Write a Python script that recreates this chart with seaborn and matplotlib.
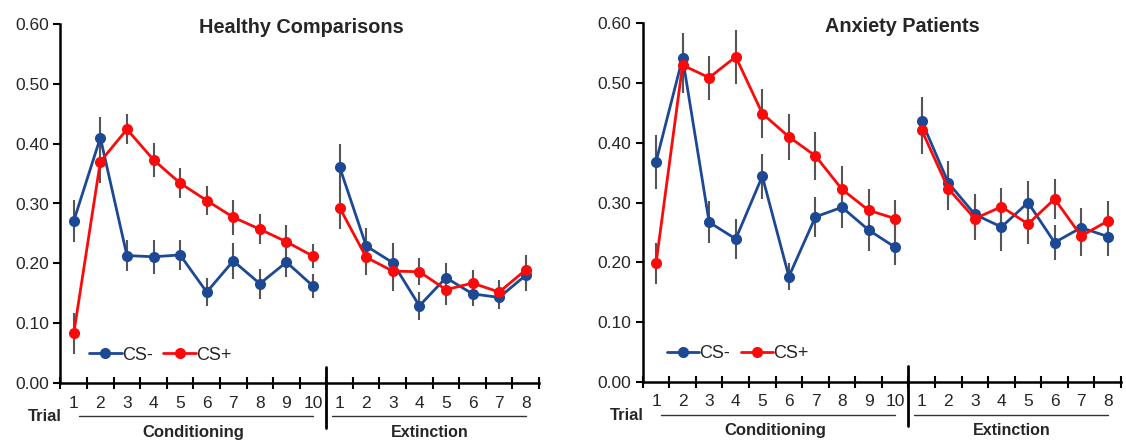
import matplotlib
matplotlib.use("Agg")
import matplotlib.pyplot as plt
import numpy as np
import pandas as pd
import seaborn as sns

# trial labels
cond_trials = list(range(1, 11))
ext_trials = list(range(1, 9))

# Healthy comparisons
hc_csm_cond = [0.271, 0.410, 0.213, 0.211, 0.214, 0.152, 0.204, 0.166, 0.202, 0.162]
hc_csm_cond_se = [0.035, 0.034, 0.026, 0.028, 0.025, 0.023, 0.030, 0.025, 0.024, 0.020]
hc_csp_cond = [0.083, 0.370, 0.424, 0.373, 0.334, 0.305, 0.277, 0.257, 0.236, 0.212]
hc_csp_cond_se = [0.034, 0.036, 0.025, 0.028, 0.025, 0.024, 0.029, 0.025, 0.028, 0.020]
hc_csm_ext = [0.361, 0.229, 0.201, 0.129, 0.176, 0.149, 0.143, 0.180]
hc_csm_ext_se = [0.038, 0.030, 0.033, 0.023, 0.025, 0.021, 0.020, 0.027]
hc_csp_ext = [0.293, 0.210, 0.187, 0.186, 0.156, 0.167, 0.152, 0.189]
hc_csp_ext_se = [0.035, 0.030, 0.033, 0.023, 0.026, 0.022, 0.020, 0.025]

# Anxiety patients
ap_csm_cond = [0.368, 0.542, 0.267, 0.239, 0.344, 0.176, 0.276, 0.292, 0.254, 0.225]
ap_csm_cond_se = [0.045, 0.041, 0.035, 0.033, 0.038, 0.023, 0.033, 0.035, 0.035, 0.030]
ap_csp_cond = [0.198, 0.530, 0.509, 0.544, 0.449, 0.410, 0.378, 0.322, 0.287, 0.273]
ap_csp_cond_se = [0.034, 0.046, 0.037, 0.045, 0.041, 0.039, 0.040, 0.039, 0.035, 0.031]
ap_csm_ext = [0.436, 0.333, 0.280, 0.259, 0.300, 0.233, 0.258, 0.243]
ap_csm_ext_se = [0.041, 0.037, 0.034, 0.040, 0.036, 0.029, 0.033, 0.033]
ap_csp_ext = [0.421, 0.323, 0.273, 0.293, 0.264, 0.306, 0.244, 0.269]
ap_csp_ext_se = [0.040, 0.036, 0.035, 0.031, 0.034, 0.034, 0.034, 0.033]

BLUE = "#1c4894"
RED = "#fa0a0a"
BAR = "#555555"


def build_df(csm_c, csm_c_se, csp_c, csp_c_se, csm_e, csm_e_se, csp_e, csp_e_se):
    rows = []
    n_c = len(cond_trials)
    for cs, vc, sc, ve, se in [
        ("CS-", csm_c, csm_c_se, csm_e, csm_e_se),
        ("CS+", csp_c, csp_c_se, csp_e, csp_e_se),
    ]:
        for i, t in enumerate(cond_trials):
            rows.append(dict(pos=i, trial=t, value=vc[i], se=sc[i], cs=cs, phase="cond"))
        for i, t in enumerate(ext_trials):
            rows.append(dict(pos=n_c + i, trial=t, value=ve[i], se=se[i], cs=cs, phase="ext"))
    return pd.DataFrame(rows)


def draw_panel(ax, df, title, title_x, leg_x):
    n_c = len(cond_trials)
    n_all = n_c + len(ext_trials)
    for cs in ["CS-", "CS+"]:
        sub = df[df["cs"] == cs]
        ax.errorbar(sub["pos"], sub["value"], yerr=sub["se"], fmt="none",
                    ecolor=BAR, elinewidth=1.5, capsize=0, zorder=1)
    sns.lineplot(data=df, x="pos", y="value", hue="cs", units="phase",
                 estimator=None, palette={"CS-": BLUE, "CS+": RED},
                 hue_order=["CS-", "CS+"], marker="o", markersize=8,
                 markeredgewidth=0, linewidth=2, ax=ax, zorder=3)

    ax.set_xlim(-0.5, n_all - 0.5)
    ax.set_ylim(0, 0.6)
    ax.set_yticks(np.arange(0, 0.61, 0.1))
    ax.set_yticklabels([f"{v:.2f}" for v in np.arange(0, 0.61, 0.1)])
    ax.set_xticks(np.arange(-0.5, n_all, 1.0))
    ax.set_xticklabels([])
    ax.set_xticks(np.arange(n_all), minor=True)
    ax.set_xticklabels([str(t) for t in cond_trials + ext_trials], minor=True)
    ax.tick_params(axis="x", which="major", bottom=True, direction="inout",
                   length=9, width=1.5, color="black")
    ax.tick_params(axis="x", which="minor", bottom=True, length=0, pad=9,
                   labelsize=12.5)
    ax.tick_params(axis="y", left=True, direction="out", length=5, width=1.5,
                   color="black", labelsize=12.5, pad=3)
    ax.set_xlabel("")
    ax.set_ylabel("")
    for s in ["top", "right"]:
        ax.spines[s].set_visible(False)
    for s in ["left", "bottom"]:
        ax.spines[s].set_linewidth(1.8)
        ax.spines[s].set_color("black")

    trans = ax.get_xaxis_transform()
    # divider between phases
    ax.plot([n_c - 0.5, n_c - 0.5], [0.045, -0.125], color="black", lw=2,
            transform=trans, clip_on=False)
    # phase underlines
    ax.plot([0.2, n_c - 1.0], [-0.092, -0.092], color="#333333", lw=1,
            transform=trans, clip_on=False)
    ax.plot([n_c - 0.3, n_all - 1.0], [-0.092, -0.092], color="#333333", lw=1,
            transform=trans, clip_on=False)
    ax.text(4.5, -0.137, "Conditioning", transform=trans, ha="center",
            va="center", fontsize=12, fontweight="bold")
    ax.text(13.4, -0.137, "Extinction", transform=trans, ha="center",
            va="center", fontsize=11.5, fontweight="bold")
    ax.text(-1.08, -0.094, "Trial", transform=trans, ha="center",
            va="center", fontsize=12, fontweight="bold")

    ax.text(title_x, 0.99, title, transform=ax.transAxes, ha="center",
            va="center", fontsize=14.3, fontweight="bold")

    handles, labels = ax.get_legend_handles_labels()
    ax.legend(handles, labels, ncol=2, frameon=False, loc="center left",
              bbox_to_anchor=(leg_x, 0.078), handlelength=1.8,
              handletextpad=0.0, columnspacing=0.6, fontsize=13,
              borderaxespad=0)


sns.set_style("white")
plt.rcParams["font.family"] = ["Liberation Sans", "DejaVu Sans"]

fig = plt.figure(figsize=(11.26, 4.4), dpi=100)
ax1 = fig.add_axes([0.0537, 0.1295, 0.425, 0.816])
ax2 = fig.add_axes([0.5708, 0.1325, 0.4248, 0.8145])

hc = build_df(hc_csm_cond, hc_csm_cond_se, hc_csp_cond, hc_csp_cond_se,
              hc_csm_ext, hc_csm_ext_se, hc_csp_ext, hc_csp_ext_se)
ap = build_df(ap_csm_cond, ap_csm_cond_se, ap_csp_cond, ap_csp_cond_se,
              ap_csm_ext, ap_csm_ext_se, ap_csp_ext, ap_csp_ext_se)

draw_panel(ax1, hc, "Healthy Comparisons", 0.503, 0.045)
draw_panel(ax2, ap, "Anxiety Patients", 0.542, 0.035)

fig.savefig("out.png", dpi=100)
